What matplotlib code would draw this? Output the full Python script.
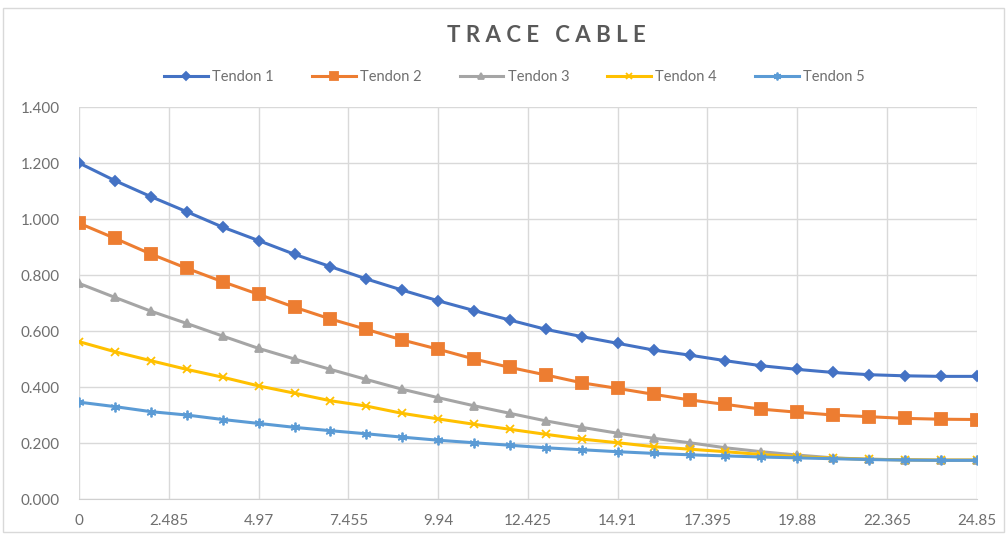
import numpy as np
import matplotlib.pyplot as plt
from matplotlib.patches import Rectangle

plt.rcParams['font.family'] = ['Lato', 'DejaVu Sans']

# distance along the cable (26 stations, 0.994 apart)
x = np.arange(26) * 0.994

tendon_1 = [1.200, 1.137, 1.080, 1.026, 0.971, 0.923, 0.874, 0.830, 0.786, 0.746,
            0.708, 0.673, 0.639, 0.606, 0.580, 0.556, 0.532, 0.514, 0.494, 0.476,
            0.463, 0.452, 0.444, 0.440, 0.438, 0.438]
tendon_2 = [0.985, 0.931, 0.875, 0.824, 0.776, 0.731, 0.685, 0.643, 0.606, 0.568,
            0.535, 0.500, 0.470, 0.443, 0.415, 0.395, 0.374, 0.354, 0.338, 0.321,
            0.310, 0.300, 0.294, 0.288, 0.285, 0.284]
tendon_3 = [0.770, 0.720, 0.671, 0.627, 0.582, 0.538, 0.500, 0.463, 0.427, 0.392,
            0.362, 0.333, 0.306, 0.279, 0.256, 0.235, 0.217, 0.201, 0.183, 0.169,
            0.157, 0.147, 0.142, 0.140, 0.139, 0.139]
tendon_4 = [0.562, 0.526, 0.494, 0.463, 0.435, 0.404, 0.378, 0.351, 0.332, 0.306,
            0.286, 0.267, 0.249, 0.231, 0.214, 0.201, 0.187, 0.178, 0.169, 0.159,
            0.151, 0.146, 0.142, 0.140, 0.139, 0.139]
tendon_5 = [0.346, 0.330, 0.312, 0.300, 0.284, 0.270, 0.256, 0.244, 0.233, 0.221,
            0.210, 0.201, 0.192, 0.183, 0.176, 0.169, 0.163, 0.158, 0.154, 0.150,
            0.147, 0.144, 0.141, 0.139, 0.138, 0.138]

series = [tendon_1, tendon_2, tendon_3, tendon_4, tendon_5]
names = ['Tendon 1', 'Tendon 2', 'Tendon 3', 'Tendon 4', 'Tendon 5']
colors = ['#4472C4', '#ED7D31', '#A5A5A5', '#FFC000', '#5B9BD5']
markers = ['D', 's', '^', 'x', (6, 2, 0)]
msizes = [5, 8, 6, 6, 7]

x_ticks = [0, 2.485, 4.97, 7.455, 9.94, 12.425, 14.91, 17.395, 19.88, 22.365, 24.85]
x_tick_labels = ['0', '2.485', '4.97', '7.455', '9.94', '12.425', '14.91',
                 '17.395', '19.88', '22.365', '24.85']
y_ticks = [0.0, 0.2, 0.4, 0.6, 0.8, 1.0, 1.2, 1.4]

fig = plt.figure(figsize=(10.07, 5.34), dpi=100)
ax = fig.add_axes([0.0785, 0.0655, 0.8915, 0.7341])

for vals, name, c, m, ms in zip(series, names, colors, markers, msizes):
    ax.plot(x, vals, color=c, lw=2.2, marker=m, markersize=ms, label=name,
            markeredgecolor=c, markeredgewidth=1.3)

ax.set_xlim(0, 24.85)
ax.set_ylim(0, 1.4)
ax.set_xticks(x_ticks)
ax.set_xticklabels(x_tick_labels)
ax.set_yticks(y_ticks)
ax.set_yticklabels([f'{v:.3f}' for v in y_ticks])
ax.tick_params(length=0, labelsize=11, colors='#6f6f6f', pad=11)
ax.tick_params(axis='y', pad=14)
ax.grid(True, color='#d9d9d9', lw=1)
ax.set_axisbelow(True)
for side in ['top', 'right', 'left']:
    ax.spines[side].set_visible(False)
ax.spines['bottom'].set_color('#d0d0d0')

fig.text(0.543, 0.933, 'T R A C E   C A B L E', ha='center', va='center',
         fontsize=16, fontweight='bold', color='#595959')

ax.legend(loc='center', bbox_to_anchor=(0.485, 1.077), ncol=5, frameon=False,
          fontsize=10.5, labelcolor='#6f6f6f', handlelength=3.0,
          handletextpad=0.3, columnspacing=2.6, markerscale=0.8)

# chart border
fig.patches.append(Rectangle((0.003, 0.003), 0.994, 0.982, transform=fig.transFigure,
                             fill=False, edgecolor='#d9d9d9', lw=1))

fig.savefig('out.png', dpi=100)
